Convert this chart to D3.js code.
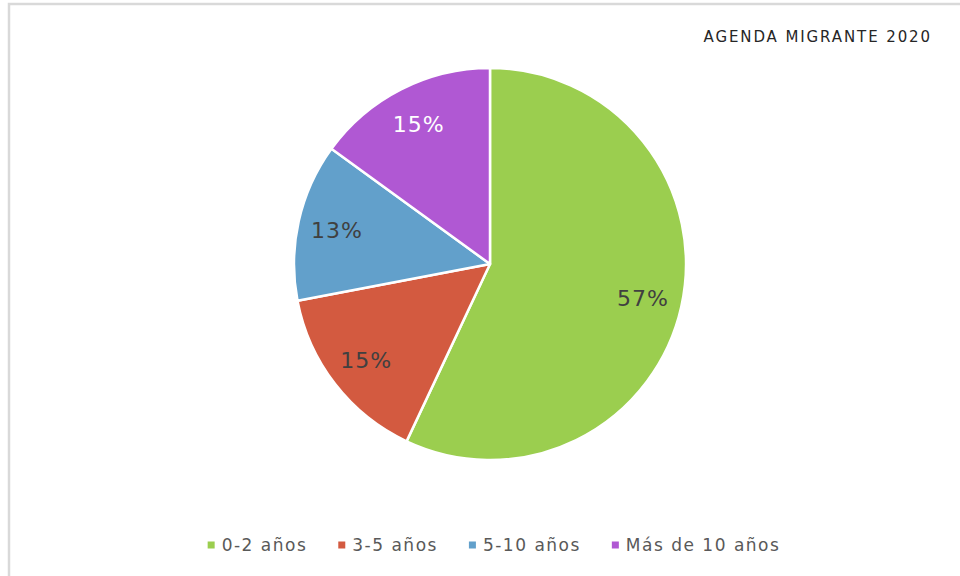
<!DOCTYPE html>
<html lang="es">
<head>
<meta charset="UTF-8">
<script src="https://d3js.org/d3.v7.min.js"></script>
<style>
  body { margin: 0; background: #fff; }
  text { font-family: "DejaVu Sans", "Noto Sans", sans-serif; }
</style>
</head>
<body>
<svg id="chart" width="960" height="576"></svg>
<script>
// data
const categories = ["0-2 años", "3-5 años", "5-10 años", "Más de 10 años"];
const values = [57, 15, 13, 15];
const sliceColors = ["#9BCE4F", "#D35A40", "#62A0CB", "#B058D3"];
const labelColors = ["#404040", "#404040", "#404040", "#ffffff"];
const title = "AGENDA MIGRANTE 2020";

const svg = d3.select("#chart");
const cx = 490, cy = 264, radius = 196;

// frame of the chart area (runs off the right/bottom edge)
svg.append("rect")
  .attr("x", 9).attr("y", 4)
  .attr("width", 980).attr("height", 600)
  .attr("fill", "#fff")
  .attr("stroke", "#D9D9D9")
  .attr("stroke-width", 2.5);

svg.append("text")
  .attr("x", 932).attr("y", 42)
  .attr("text-anchor", "end")
  .attr("font-size", 15)
  .attr("letter-spacing", 1.9)
  .attr("fill", "#262626")
  .text(title);

const color = d3.scaleOrdinal().domain(categories).range(sliceColors);
const textColor = d3.scaleOrdinal().domain(categories).range(labelColors);

const pie = d3.pie().sort(null).value(d => d.value);
const arcs = pie(categories.map((c, i) => ({ name: c, value: values[i] })));

const arc = d3.arc().innerRadius(0).outerRadius(radius);
const labelArc = d3.arc().innerRadius(radius * 0.8).outerRadius(radius * 0.8);

const g = svg.append("g").attr("transform", `translate(${cx},${cy})`);

g.selectAll("path").data(arcs).enter()
  .append("path")
  .attr("d", arc)
  .attr("fill", d => color(d.data.name))
  .attr("stroke", "#fff")
  .attr("stroke-width", 2.5)
  .attr("stroke-linejoin", "round");

const total = d3.sum(values);
g.selectAll("text.lbl").data(arcs).enter()
  .append("text")
  .attr("class", "lbl")
  .attr("transform", d => `translate(${labelArc.centroid(d)})`)
  .attr("text-anchor", "middle")
  .attr("dy", "0.36em")
  .attr("font-size", 22)
  .attr("letter-spacing", 1)
  .attr("fill", d => textColor(d.data.name))
  .text(d => d3.format(".0%")(d.data.value / total));

// legend, centred under the pie
const legend = svg.append("g");
const items = legend.selectAll("g").data(categories).enter().append("g");
items.append("rect")
  .attr("width", 7).attr("height", 7)
  .attr("y", -3.5)
  .attr("fill", d => color(d));
items.append("text")
  .attr("x", 14)
  .attr("dy", "0.36em")
  .attr("font-size", 17)
  .attr("letter-spacing", 1.5)
  .attr("fill", "#595959")
  .text(d => d);

let x = 0;
const gap = 31;
items.each(function () {
  const w = 14 + this.querySelector("text").getComputedTextLength();
  d3.select(this).attr("transform", `translate(${x},0)`);
  x += w + gap;
});
const legendWidth = x - gap;
legend.attr("transform", `translate(${494 - legendWidth / 2},545)`);
</script>
</body>
</html>
